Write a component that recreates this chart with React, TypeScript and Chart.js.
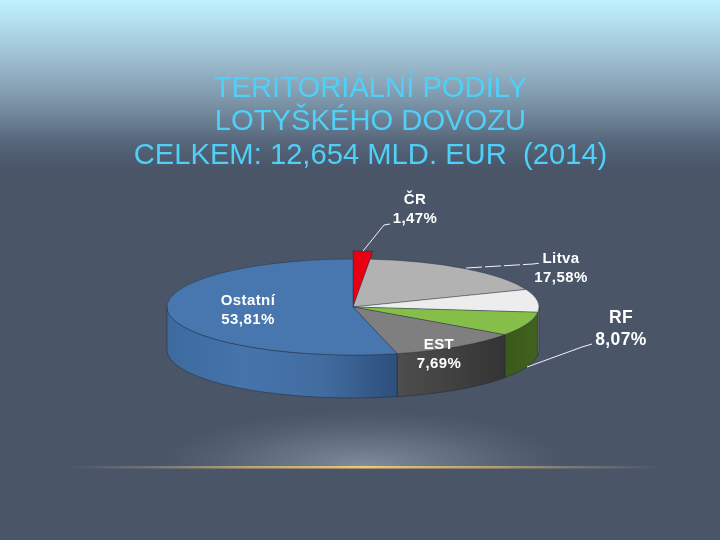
import React, { useEffect, useRef } from "react";
import { Chart, registerables } from "chart.js";

Chart.register(...registerables);

const categories = ["ČR", "Litva", "EST", "RF", "", "Ostatní"];
const shares = [1.47, 17.58, 7.69, 8.07, 11.38, 53.81];
const titleLines = ["TERITORIÁLNÍ PODÍLY", "LOTYŠKÉHO DOVOZU", "CELKEM: 12,654 MLD. EUR  (2014)"];

const faceColors = ["#E60012", "#B2B2B2", "#EDEDED", "#86BE4A", "#7F7F7F", "#4777AE"];
const wallStops: string[][] = [
  ["#A00010", "#A00010"],
  ["#777777", "#777777"],
  ["#9A9A9A", "#9A9A9A"],
  ["#3A5A1C", "#41621F"],
  ["#4E4E4E", "#343434"],
  ["#3D6A9E", "#4674AB", "#426DA1", "#2D4F7C"],
];

const CX = 353;
const CY = 307;
const RX = 186;
const RY = 48;
const DEPTH = 43;
const RED_RADIUS_SCALE = 1.17;

// Label placement: [centre x, first line y, second line y, font size], by category
const labelPlacement: (number[] | null)[] = [
  [415, 200, 219, 15],
  [561, 259, 278, 15],
  [439, 345, 364, 15],
  [621, 318, 340, 17.5],
  null,
  [248, 301, 320, 15],
];
const leaders: number[][][] = [
  [[363, 251], [384, 225], [390, 224]],
  [[466, 268], [533, 264], [541, 263]],
  [[527, 367], [582, 347], [592, 344]],
];

const fmt = (v: number) => v.toFixed(2).replace(".", ",") + "%";

const slidePlugin = {
  id: "slide",
  beforeDraw(chart: any) {
    const { ctx, width, height } = chart;
    ctx.save();
    const g = ctx.createLinearGradient(0, 0, 0, 168);
    g.addColorStop(0, "#C0F1FF");
    g.addColorStop(0.12, "#B4E0F0");
    g.addColorStop(0.4, "#97B6C8");
    g.addColorStop(0.62, "#7A92A6");
    g.addColorStop(0.85, "#566579");
    g.addColorStop(1, "#4A5568");
    ctx.fillStyle = g;
    ctx.fillRect(0, 0, width, height);

    // glow above the horizon line
    ctx.save();
    ctx.beginPath();
    ctx.rect(0, 400, width, 66);
    ctx.clip();
    ctx.translate(364, 466);
    ctx.scale(1, 0.27);
    const glow = ctx.createRadialGradient(0, 0, 0, 0, 0, 205);
    glow.addColorStop(0, "rgba(140,155,170,0.8)");
    glow.addColorStop(0.5, "rgba(125,140,155,0.45)");
    glow.addColorStop(1, "rgba(110,125,140,0)");
    ctx.fillStyle = glow;
    ctx.fillRect(-220, -220, 440, 440);
    ctx.restore();

    // horizon line
    const line = ctx.createLinearGradient(70, 0, 660, 0);
    line.addColorStop(0, "rgba(200,190,150,0)");
    line.addColorStop(0.12, "rgba(190,180,150,0.3)");
    line.addColorStop(0.3, "rgba(225,190,110,0.75)");
    line.addColorStop(0.5, "rgba(240,200,120,1)");
    line.addColorStop(0.72, "rgba(225,190,110,0.7)");
    line.addColorStop(0.9, "rgba(190,180,150,0.25)");
    line.addColorStop(1, "rgba(200,190,150,0)");
    ctx.fillStyle = line;
    ctx.fillRect(70, 466, 590, 2.5);
    ctx.restore();
  },
  beforeDatasetsDraw(chart: any) {
    const { ctx } = chart;
    const arcs = chart.getDatasetMeta(0).data;
    arcs[0].outerRadius = RX * RED_RADIUS_SCALE;

    ctx.save();
    arcs.forEach((el: any, i: number) => {
      const a = Math.max(el.startAngle, 0);
      const b = Math.min(el.endAngle, Math.PI);
      if (a >= b) return;
      const x0 = CX + RX * Math.cos(b);
      const x1 = CX + RX * Math.cos(a);
      const grad = ctx.createLinearGradient(x0, 0, x1, 0);
      const stops = wallStops[i];
      stops.forEach((c, k) => grad.addColorStop(k / (stops.length - 1), c));
      ctx.beginPath();
      ctx.ellipse(CX, CY, RX, RY, 0, a, b);
      ctx.ellipse(CX, CY + DEPTH, RX, RY, 0, b, a, true);
      ctx.closePath();
      ctx.fillStyle = grad;
      ctx.fill();
      ctx.strokeStyle = "rgba(25,35,55,0.55)";
      ctx.lineWidth = 0.8;
      ctx.stroke();
    });
    ctx.restore();

    const first = arcs[0];
    ctx.save();
    ctx.translate(CX, CY);
    ctx.scale(1, RY / RX);
    ctx.translate(-first.x, -first.y);
  },
  afterDatasetsDraw(chart: any) {
    const { ctx } = chart;
    ctx.restore();

    ctx.save();
    ctx.strokeStyle = "#F2F4F6";
    ctx.lineWidth = 1;
    leaders.forEach((pts, n) => {
      ctx.beginPath();
      ctx.setLineDash(n === 1 ? [16, 3] : []);
      pts.forEach((p, k) => (k ? ctx.lineTo(p[0], p[1]) : ctx.moveTo(p[0], p[1])));
      ctx.stroke();
    });
    ctx.setLineDash([]);

    ctx.fillStyle = "#FFFFFF";
    ctx.textAlign = "center";
    ctx.textBaseline = "middle";
    ctx.letterSpacing = "0.4px";
    categories.forEach((name, i) => {
      const p = labelPlacement[i];
      if (!p) return;
      ctx.font = `bold ${p[3]}px "Liberation Sans"`;
      ctx.fillText(name, p[0], p[1]);
      ctx.fillText(fmt(shares[i]), p[0], p[2]);
    });
    ctx.restore();
  },
};

export default function App() {
  const ref = useRef<HTMLCanvasElement>(null);
  useEffect(() => {
    const chart = new Chart(ref.current as HTMLCanvasElement, {
      type: "pie",
      data: {
        labels: categories,
        datasets: [
          {
            data: shares,
            backgroundColor: faceColors,
            borderColor: "rgba(30,40,60,0.6)",
            borderWidth: 1,
            clip: false,
          } as any,
        ],
      },
      options: {
        responsive: false,
        animation: false,
        radius: RX,
        layout: { padding: { left: 21, right: 0, top: 0, bottom: 0 } },
        plugins: {
          legend: { display: false },
          tooltip: { enabled: false },
          title: {
            display: true,
            text: titleLines,
            color: "#4FD0F8",
            font: { family: '"Liberation Sans"', size: 29.2, weight: "normal", lineHeight: 1.15 },
            padding: { top: 72, bottom: 0 },
          },
        },
      } as any,
      plugins: [slidePlugin],
    });
    return () => chart.destroy();
  }, []);
  return (
    <div style={{ position: "fixed", left: 0, top: 0, width: 720, height: 540 }}>
      <canvas ref={ref} width={720} height={540} style={{ display: "block" }} />
    </div>
  );
}
